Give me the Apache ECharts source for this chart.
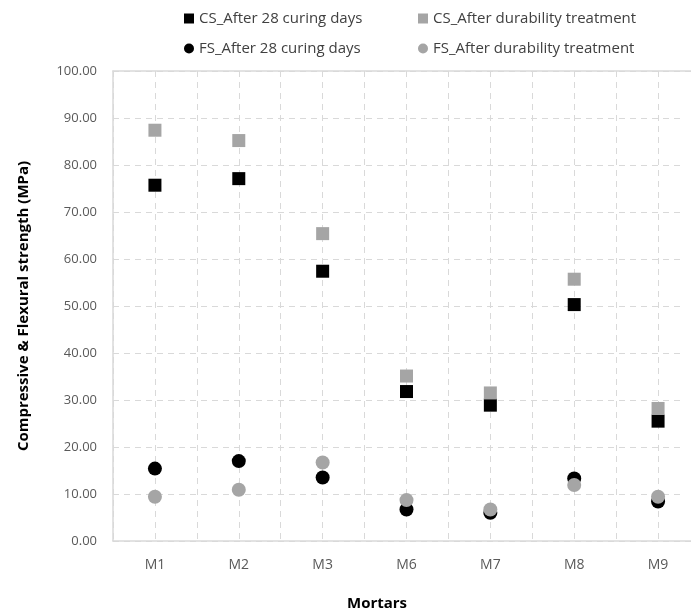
<!DOCTYPE html>
<html>
<head>
<meta charset="utf-8">
<script src="https://cdn.jsdelivr.net/npm/echarts@6/dist/echarts.min.js"></script>
<style>
html,body{margin:0;padding:0;background:#fff;}
#c{width:691px;height:615px;}
</style>
</head>
<body>
<div id="c"></div>
<script>
var categories = ['M1', 'M2', 'M3', 'M6', 'M7', 'M8', 'M9'];
var cs28 = [75.7, 77.1, 57.4, 31.8, 28.9, 50.3, 25.5];
var csDur = [87.4, 85.2, 65.4, 35.1, 31.5, 55.7, 28.2];
var fs28 = [15.4, 17.0, 13.5, 6.7, 6.0, 13.3, 8.4];
var fsDur = [9.4, 10.9, 16.7, 8.7, 6.7, 11.9, 9.4];
var seriesNames = ['CS_After 28 curing days', 'CS_After durability treatment', 'FS_After 28 curing days', 'FS_After durability treatment'];

var FONT = 'Open Sans';
function pts(arr){ return arr.map(function(v,i){ return [i+1, v]; }); }

var chart = echarts.init(document.getElementById('c'), null, {renderer:'canvas'});
function leg(name, left, top, icon){
  return {
    data:[{name:name, icon:icon}],
    left:left, top:top, itemWidth:10, itemHeight:10, itemGap:4,
    textStyle:{fontFamily:FONT, fontSize:15, color:'#404040'},
    selectedMode:false
  };
}
var gridLine = {show:true, lineStyle:{type:[6,5], color:'#d9d9d9', width:1}};
chart.setOption({
  animation:false,
  backgroundColor:'#fff',
  legend:[
    leg(seriesNames[0], 179, 6, 'rect'),
    leg(seriesNames[1], 413, 6, 'rect'),
    leg(seriesNames[2], 179, 36, 'circle'),
    leg(seriesNames[3], 413, 36, 'circle')
  ],
  grid:{left:113, top:71, width:587, height:470, outerBoundsMode:'none', containLabel:false, show:false},
  xAxis:[{
    type:'value', min:0.5, max:7.5, interval:0.5,
    axisLine:{show:true, lineStyle:{color:'#d9d9d9', width:1.5}},
    axisTick:{show:false},
    axisLabel:{
      fontFamily:FONT, fontSize:14, color:'#595959', margin:17,
      formatter:function(v){ return (Math.abs(v-Math.round(v))<1e-6 && v>=1 && v<=7) ? categories[Math.round(v)-1] : ''; }
    },
    splitLine:gridLine
  },{
    type:'value', position:'top', min:0.5, max:7.5, interval:0.5,
    axisLine:{show:true, onZero:false, lineStyle:{color:'#d9d9d9', width:1.5}},
    axisTick:{show:false}, axisLabel:{show:false}, splitLine:{show:false}
  }],
  yAxis:{
    type:'value', min:0, max:100, interval:10,
    name:'Compressive & Flexural strength (MPa)', nameLocation:'middle', nameRotate:90, nameGap:82,
    nameTextStyle:{fontFamily:FONT, fontSize:15, fontWeight:'bold', color:'#000'},
    axisLine:{show:true, lineStyle:{color:'#d9d9d9', width:1.5}},
    axisTick:{show:false},
    axisLabel:{fontFamily:FONT, fontSize:13, color:'#595959', margin:16, formatter:function(v){ return v.toFixed(2); }},
    splitLine:gridLine
  },
  graphic:[{
    type:'text', left:347, top:596,
    style:{text:'Mortars', fontFamily:FONT, fontSize:15, fontWeight:'bold', fill:'#000'}
  },{
    type:'rect', z:100, shape:{x:684, y:73, width:10, height:466}, style:{fill:'#ffffff'}, silent:true
  }],
  series:[
    {name:seriesNames[0], type:'scatter', symbol:'rect', symbolSize:13, itemStyle:{color:'#000000', opacity:1}, data:pts(cs28)},
    {name:seriesNames[1], type:'scatter', symbol:'rect', symbolSize:13, itemStyle:{color:'#a5a5a5', opacity:1}, data:pts(csDur)},
    {name:seriesNames[2], type:'scatter', symbol:'circle', symbolSize:14, itemStyle:{color:'#000000', opacity:1}, data:pts(fs28)},
    {name:seriesNames[3], type:'scatter', symbol:'circle', symbolSize:14, itemStyle:{color:'#a5a5a5', opacity:1}, data:pts(fsDur)}
  ]
});
</script>
</body>
</html>
